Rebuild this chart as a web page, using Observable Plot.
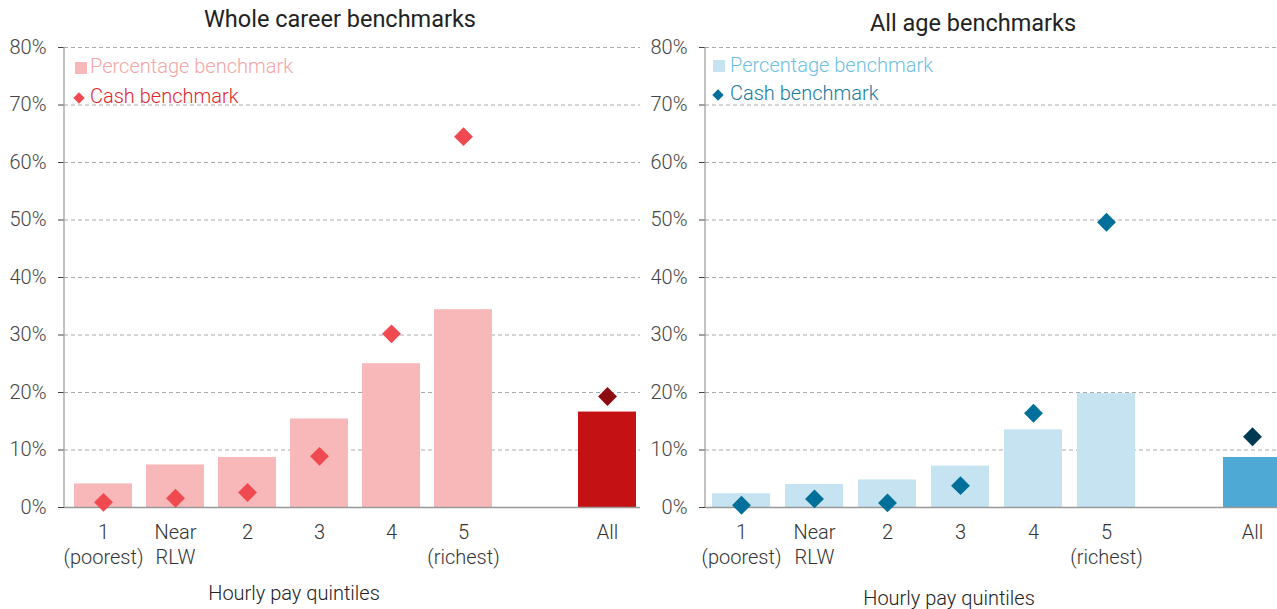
<!DOCTYPE html>
<html><head><meta charset="utf-8">
<script src="https://cdn.jsdelivr.net/npm/d3@7"></script>
<script src="https://cdn.jsdelivr.net/npm/@observablehq/plot@0.6"></script>
<style>
html,body{margin:0;padding:0;background:#fff;}
#wrap{position:relative;width:1277px;height:609px;overflow:hidden;font-family:Roboto,"Noto Sans",sans-serif;}
.panel{position:absolute;top:0;}
.title{position:absolute;font-size:23.5px;color:#222;white-space:nowrap;transform:translate(-50%,-50%);}
.xlab{position:absolute;font-size:20px;font-weight:300;color:#222;white-space:nowrap;transform:translate(-50%,-50%);}
.leg{position:absolute;font-size:20px;font-weight:300;white-space:nowrap;transform:translateY(-50%);}
.sq{position:absolute;width:12px;height:12px;}
.dm{position:absolute;width:8px;height:8px;transform:translate(-50%,-50%) rotate(45deg);}
</style></head>
<body><div id="wrap"></div>
<script>
const categories = ["1\n(poorest)", "Near\nRLW", "2", "3", "4", "5\n(richest)", "gap", "All"];
const tickLabels = ["1\n(poorest)", "Near\nRLW", "2", "3", "4", "5\n(richest)", "", "All"];
const wholePct  = [4.1, 7.4, 8.7, 15.4, 25.0, 34.4, null, 16.6];
const wholeCash = [0.9, 1.6, 2.6, 8.9, 30.2, 64.5, null, 19.3];
const agePct    = [2.4, 4.0, 4.8, 7.2, 13.5, 19.8, null, 8.7];
const ageCash   = [0.4, 1.5, 0.8, 3.8, 16.4, 49.6, null, 12.3];
const yTicks = [0, 10, 20, 30, 40, 50, 60, 70, 80];

const wrap = document.getElementById("wrap");

function panel(opts) {
  const rows = categories.map((c, i) => ({c, pct: opts.pct[i], cash: opts.cash[i], all: c === "All"}))
    .filter(d => d.pct != null);
  const chart = Plot.plot({
    width: opts.width, height: 609,
    marginLeft: opts.marginLeft, marginRight: 0, marginTop: 47, marginBottom: 102,
    style: {fontFamily: "Roboto, 'Noto Sans', sans-serif", fontSize: "20px", fontWeight: 300, background: "transparent", overflow: "hidden"},
    x: {domain: categories, range: [opts.marginLeft, opts.marginLeft + 8 * opts.step], paddingInner: 0.2, paddingOuter: 0.1, axis: null},
    y: {domain: [0, 80], axis: null},
    marks: [
      Plot.ruleY(yTicks.slice(1), {stroke: "#aaa", strokeDasharray: "4,3", strokeWidth: 1}),
      Plot.axisY({ticks: yTicks, tickFormat: d => d + "%", tickSize: 6, tickPadding: 12, color: "#444", fontSize: 20}),
      Plot.barY(rows, {x: "c", y: "pct", fill: d => d.all ? opts.allBar : opts.bar}),
      Plot.ruleY([0], {stroke: "#999", strokeWidth: 1.5}),
      Plot.dot(rows, {x: "c", y: "cash", symbol: "diamond2", r: 8.5, fill: d => d.all ? opts.allDot : opts.dot, stroke: "none"}),
      Plot.text(categories, {x: d => d, text: (d, i) => tickLabels[i], frameAnchor: "bottom", dy: 14, lineAnchor: "top", lineHeight: 1.25, fill: "#333", fontSize: 20})
    ]
  });
  const y = chart.scale("y");
  d3.select(chart).append("line")
    .attr("x1", opts.marginLeft).attr("x2", opts.marginLeft)
    .attr("y1", y.apply(80)).attr("y2", y.apply(0))
    .attr("stroke", "#999").attr("stroke-width", 1.2);
  const div = document.createElement("div");
  div.className = "panel";
  div.style.left = opts.left + "px";
  div.appendChild(chart);
  wrap.appendChild(div);
}

panel({left: 0, width: 640, marginLeft: 64, step: 72.8, pct: wholePct, cash: wholeCash,
  bar: "#f8b8b9", allBar: "#c41214", dot: "#ee4a50", allDot: "#8e0c10"});
panel({left: 640, width: 637, marginLeft: 65, step: 73, pct: agePct, cash: ageCash,
  bar: "#c5e3f0", allBar: "#4ea9d4", dot: "#00709a", allDot: "#003a52"});

function add(html) { wrap.insertAdjacentHTML("beforeend", html); }
add('<div class="title" style="left:340px;top:19px">Whole career benchmarks</div>');
add('<div class="title" style="left:973px;top:23px">All age benchmarks</div>');
add('<div class="xlab" style="left:294px;top:593px">Hourly pay quintiles</div>');
add('<div class="xlab" style="left:949px;top:598px">Hourly pay quintiles</div>');
add('<div class="sq" style="left:75px;top:62px;background:#f8b8b9"></div>');
add('<div class="leg" style="left:90px;top:66px;color:#f5a4a6">Percentage benchmark</div>');
add('<div class="dm" style="left:79px;top:98px;background:#ee4a50"></div>');
add('<div class="leg" style="left:90px;top:96px;color:#e0262d">Cash benchmark</div>');
add('<div class="sq" style="left:713px;top:60px;background:#c5e3f0"></div>');
add('<div class="leg" style="left:730px;top:65px;color:#6dbfe3">Percentage benchmark</div>');
add('<div class="dm" style="left:718px;top:95px;background:#00709a"></div>');
add('<div class="leg" style="left:730px;top:93px;color:#1a7aa0">Cash benchmark</div>');
</script></body></html>
